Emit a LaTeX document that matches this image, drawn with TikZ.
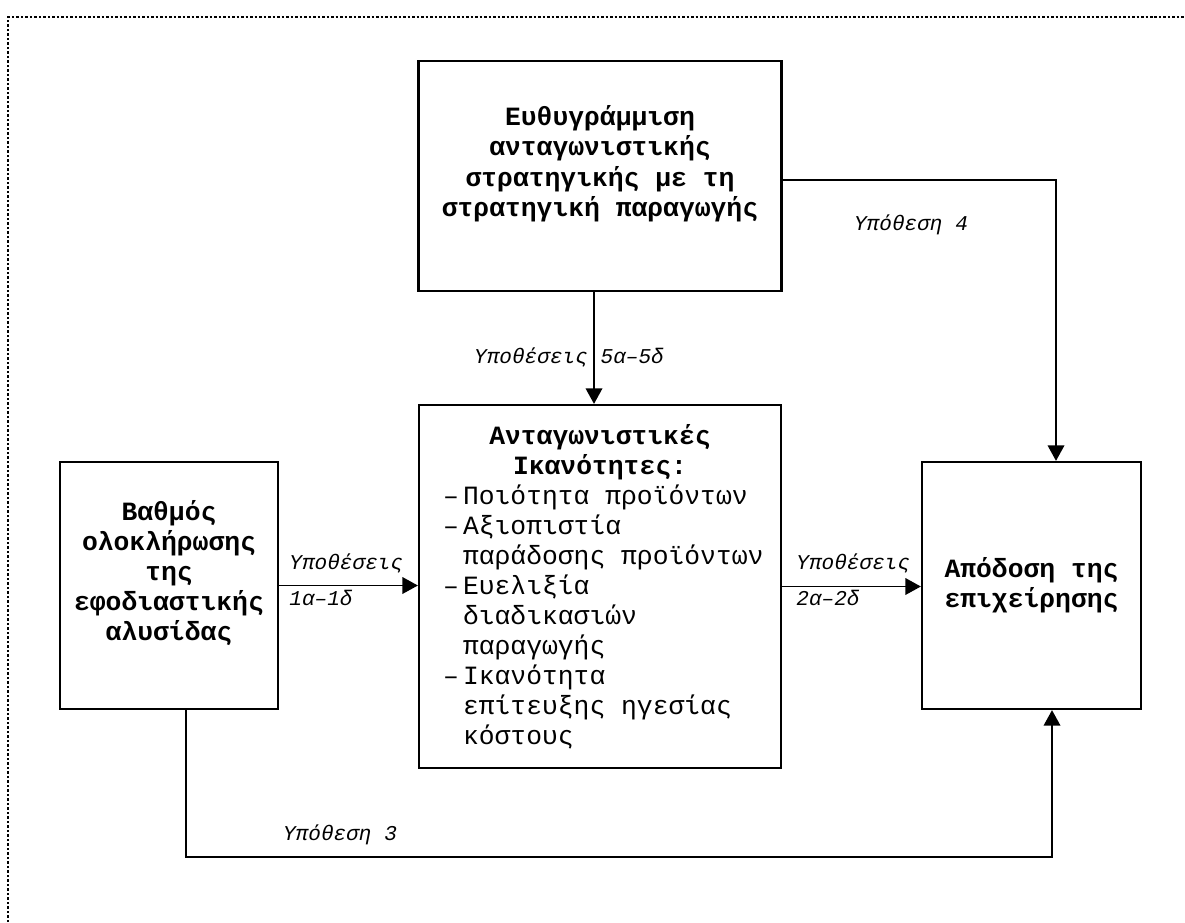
\documentclass[tikz,border=0pt]{standalone}
\usepackage{fontspec}
\setmainfont{Liberation Mono}
\usetikzlibrary{arrows.meta}

% one line of the list, and a continued line of it
\newcommand{\capitem}[1]{\makebox[6.28cm][l]{\makebox[0.4cm][l]{–}#1}}
\newcommand{\capcont}[1]{\makebox[6.28cm][l]{\hspace*{0.4cm}#1}}

\begin{document}
\begin{tikzpicture}[x=0.02cm,y=-0.02cm,>={Triangle[length=0.31cm,width=0.33cm]},
        box/.style={draw,line width=1.3pt,align=center,inner sep=0pt,
                font=\fontsize{15}{17.1}\selectfont},
        hyp/.style={inner sep=0pt,font=\fontsize{12}{14}\selectfont\itshape},
        link/.style={line width=1.1pt}]
        \useasboundingbox (0,0) rectangle (1185,922);

        % dotted frame
        \draw[line width=0.05cm,dash pattern=on 0.05cm off 0.04cm] (8,922) -- (8,17) -- (1185,17);

        % the boxes
        \node[box,minimum width=7.26cm,minimum height=4.6cm] (strat) at (600,176)
                {\textbf{Ευθυγράμμιση}\\\textbf{ανταγωνιστικής}\\\textbf{στρατηγικής με τη}\\\textbf{στρατηγική παραγωγής}\\ \mbox{}};
        \node[box,minimum width=7.24cm,minimum height=7.26cm] (capab) at (600,586.5)
                {\textbf{Ανταγωνιστικές}\\\textbf{Ικανότητες:}\\
                \capitem{Ποιότητα προϊόντων}\\
                \capitem{Αξιοπιστία}\\
                \capcont{παράδοσης προϊόντων}\\
                \capitem{Ευελιξία}\\
                \capcont{διαδικασιών}\\
                \capcont{παραγωγής}\\
                \capitem{Ικανότητα}\\
                \capcont{επίτευξης ηγεσίας}\\
                \capcont{κόστους}};
        \node[box,minimum width=4.36cm,minimum height=4.94cm] (intg) at (169,585.5)
                {\textbf{Βαθμός}\\\textbf{ολοκλήρωσης}\\\textbf{της}\\\textbf{εφοδιαστικής}\\\textbf{αλυσίδας}\\ \mbox{}};
        \node[box,minimum width=4.38cm,minimum height=4.94cm] (perf) at (1031.5,585.5)
                {\textbf{Απόδοση της}\\\textbf{επιχείρησης}};

        % bends of the long connectors
        \coordinate (c4) at (1056,180);
        \coordinate (c3l) at (186,857);
        \coordinate (c3r) at (1052,857);

        % connectors
        \draw[link,->] ([xshift=-0.12cm]strat.south) -- ([xshift=-0.12cm]capab.north);
        \draw[link,->] (intg.east) -- (intg.east -| capab.west);
        \draw[link,->] (capab.east) -- (capab.east -| perf.west);
        \draw[link,->] (strat.east |- c4) -- (c4) -- (c4 |- perf.north);
        \draw[link,->] (intg.south -| c3l) -- (c3l) -- (c3r) -- (c3r |- perf.south);

        % hypotheses
        \node[hyp] (h5) at (569,357) {Υποθέσεις 5α–5δ};
        \node[hyp] (h4) at (911,225) {Υπόθεση 4};
        \node[hyp] (h3) at (340,835) {Υπόθεση 3};
        \node[hyp,anchor=west] (h1a) at (289,563) {Υποθέσεις};
        \node[hyp,anchor=west] (h1b) at (289,598) {1α–1δ};
        \node[hyp,anchor=west] (h2a) at (796,563) {Υποθέσεις};
        \node[hyp,anchor=west] (h2b) at (796,598) {2α–2δ};
\end{tikzpicture}
\end{document}
